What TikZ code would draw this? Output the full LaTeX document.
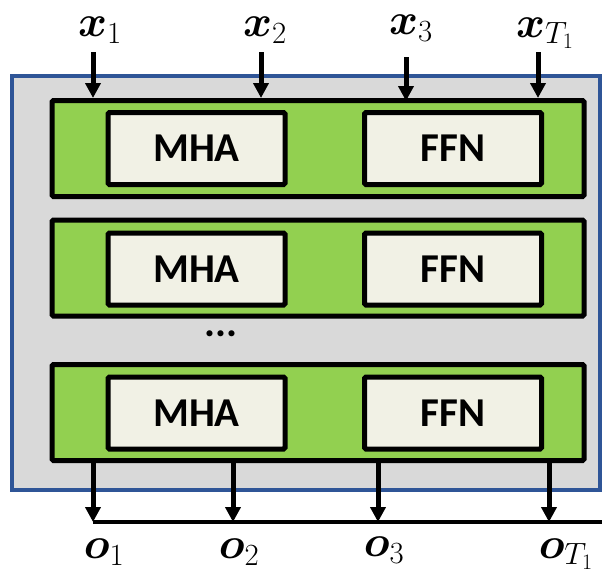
\RequirePackage{fix-cm}
\documentclass[tikz,border=0pt]{standalone}
\usepackage{amsmath}
\usepackage{fontspec}
\newfontfamily\boxfont{Carlito}
\usetikzlibrary{arrows.meta}
\definecolor{outergray}{HTML}{D9D9D9}
\definecolor{outerblue}{HTML}{2F5597}
\definecolor{rowgreen}{HTML}{92D050}
\definecolor{boxbeige}{HTML}{F1F1E5}
\tikzset{
  outerbox/.style={draw=outerblue, fill=outergray, line width=3.5pt, inner sep=0pt},
  greenrow/.style={draw=black, fill=rowgreen, line width=5pt, rounded corners=1.5pt, inner sep=0pt, minimum width=532pt, minimum height=96pt},
  innerbox/.style={draw=black, fill=boxbeige, line width=5pt, rounded corners=1.5pt, inner sep=0pt, minimum width=177pt, minimum height=72pt, font=\boxfont\bfseries\fontsize{41}{48}\selectfont},
  lbl/.style={inner sep=0pt, font=\fontsize{44}{50}\selectfont},
  arr/.style={line width=5pt, -{Triangle[width=15pt,length=15pt]}},
  baseline/.style={line width=4pt}
}
\begin{document}
\begin{tikzpicture}[x=1pt,y=-1pt]
\useasboundingbox (0,0) rectangle (602,574);
% outer box
\node[outerbox, minimum width=588pt, minimum height=414pt] (outer) at (306,283) {};
% rows
\node[greenrow] (r1) at (318,148.5) {};
\node[greenrow] (r2) at (318,268) {};
\node[greenrow] (r3) at (318,412.5) {};
\node[innerbox] (m1) at (196.5,148.5) {MHA};
\node[innerbox] (f1) at (453,148.5) {FFN};
\node[innerbox] (m2) at (196.5,269) {MHA};
\node[innerbox] (f2) at (453,269) {FFN};
\node[innerbox] (m3) at (196.5,413) {MHA};
\node[innerbox] (f3) at (453,413) {FFN};
\node[inner sep=0pt, font=\boxfont\bfseries\fontsize{41}{48}\selectfont] (dots) at (221,334) {...};
% inputs
\node[lbl] (x1) at (100,30) {$\boldsymbol{x}_1$};
\node[lbl] (x2) at (265,30) {$\boldsymbol{x}_2$};
\node[lbl] (x3) at (411,28) {$\boldsymbol{x}_3$};
\node[lbl] (xT) at (545,33) {$\boldsymbol{x}_{T_1}$};
\coordinate (a1) at (93,52);
\coordinate (a2) at (261,52);
\coordinate (a3) at (406,57);
\coordinate (a4) at (538,52);
\draw[arr] (a1) -- (a1 |- r1.north);
\draw[arr] (a2) -- (a2 |- r1.north);
\draw[arr] (a3) -- ([yshift=-3pt]a3 |- r1.north);
\draw[arr] (a4) -- (a4 |- r1.north);
% outputs
\coordinate (b1) at (93,522);
\coordinate (b2) at (233,522);
\coordinate (b3) at (378,522);
\coordinate (b4) at (549,522);
\coordinate (bend) at (602,522);
\draw[arr] (b1 |- r3.south) -- (b1);
\draw[arr] (b2 |- r3.south) -- (b2);
\draw[arr] (b3 |- r3.south) -- (b3);
\draw[arr] (b4 |- r3.south) -- (b4);
\draw[baseline] (b1) -- (bend);
\node[lbl] (o1) at (104,552) {$\boldsymbol{o}_1$};
\node[lbl] (o2) at (239,552) {$\boldsymbol{o}_2$};
\node[lbl] (o3) at (384,550) {$\boldsymbol{o}_3$};
\node[lbl] (oT) at (566,554) {$\boldsymbol{o}_{T_1}$};
\end{tikzpicture}
\end{document}
